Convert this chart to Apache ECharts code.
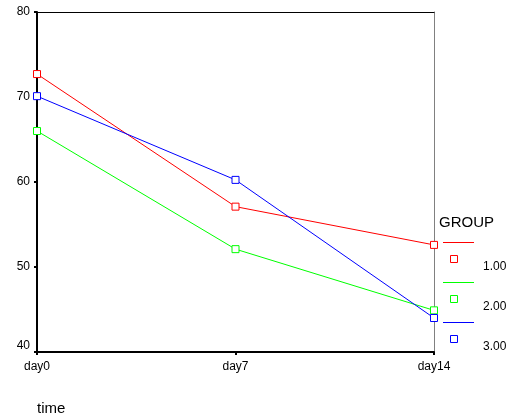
<!DOCTYPE html>
<html><head><meta charset="utf-8">
<script src="https://cdn.jsdelivr.net/npm/echarts@6/dist/echarts.min.js"></script>
<style>html,body{margin:0;padding:0;background:#fff}#c{width:511px;height:419px}</style>
</head><body><div id="c"></div>
<script>
const categories = ['day0', 'day7', 'day14'];
const groupNames = ['1.00', '2.00', '3.00'];
const group1 = [72.7, 57.1, 52.6];
const group2 = [66.0, 52.1, 44.9];
const group3 = [70.1, 60.25, 44.0];
const yTicks = [40, 50, 60, 70, 80];
const legendTitle = 'GROUP';
const xName = 'time';
const colors = ['#ff0000', '#00ff00', '#0000ff'];

const FONT = 'Liberation Sans, Arial, sans-serif';
const chart = echarts.init(document.getElementById('c'), null, {renderer: 'canvas'});
const values = [group1, group2, group3];

const series = values.map((v, i) => ({
  name: groupNames[i],
  type: 'line',
  xAxisIndex: 0, yAxisIndex: 0,
  data: v,
  symbol: 'rect',
  symbolSize: 7,
  clip: false,
  lineStyle: {color: colors[i], width: 1},
  itemStyle: {color: '#fff', borderColor: colors[i], borderWidth: 1},
  emphasis: {disabled: true},
  z: 3 + i
}));

const graphic = [{
  type: 'text', left: 439, top: 215,
  style: {text: legendTitle, font: '15px ' + FONT, fill: '#000'}
}, {
  type: 'text', left: 37, top: 401,
  style: {text: xName, font: '15px ' + FONT, fill: '#000'}
}];
groupNames.forEach((n, i) => {
  const oy = i * 40;
  graphic.push({type: 'line', shape: {x1: 443, y1: 242.5 + oy, x2: 474, y2: 242.5 + oy},
    style: {stroke: colors[i], lineWidth: 1}});
  graphic.push({type: 'rect', shape: {x: 450.5, y: 255.5 + oy, width: 7, height: 7},
    style: {stroke: colors[i], fill: '#fff', lineWidth: 1}});
  graphic.push({type: 'text', left: 483, top: 261 + oy,
    style: {text: n, font: '12px ' + FONT, fill: '#000'}});
});

chart.setOption({
  animation: false,
  backgroundColor: '#fff',
  grid: {left: 37, right: 77, top: 12, bottom: 67, containLabel: false},
  xAxis: [{
    type: 'category', data: categories, boundaryGap: false, position: 'bottom',
    axisLine: {show: true, lineStyle: {color: '#000', width: 2}},
    axisTick: {show: true, length: 3, lineStyle: {color: '#000', width: 2}},
    axisLabel: {color: '#000', fontSize: 12, fontFamily: FONT, margin: 9},
    splitLine: {show: false}
  }, {
    type: 'category', data: categories, boundaryGap: false, position: 'top',
    axisLine: {show: true, lineStyle: {color: '#000', width: 1}},
    axisTick: {show: false}, axisLabel: {show: false}, splitLine: {show: false}
  }],
  yAxis: [{
    type: 'value', min: yTicks[0], max: yTicks[yTicks.length - 1], interval: 10, position: 'left',
    axisLine: {show: true, lineStyle: {color: '#000', width: 2}},
    axisTick: {show: true, length: 3, lineStyle: {color: '#000', width: 2}},
    axisLabel: {
      color: '#000', fontSize: 12, fontFamily: FONT, margin: 7,
      formatter: v => v === yTicks[0] ? '{lo|' + v + '}' : String(v),
      rich: {lo: {color: '#000', fontSize: 12, fontFamily: FONT, padding: [0, 0, 12, 0]}}
    },
    splitLine: {show: false}
  }, {
    type: 'value', min: yTicks[0], max: yTicks[yTicks.length - 1], interval: 10, position: 'right',
    axisLine: {show: true, lineStyle: {color: '#808080', width: 1}},
    axisTick: {show: false}, axisLabel: {show: false}, splitLine: {show: false}
  }],
  series: series,
  graphic: graphic
});
</script>
</body></html>
